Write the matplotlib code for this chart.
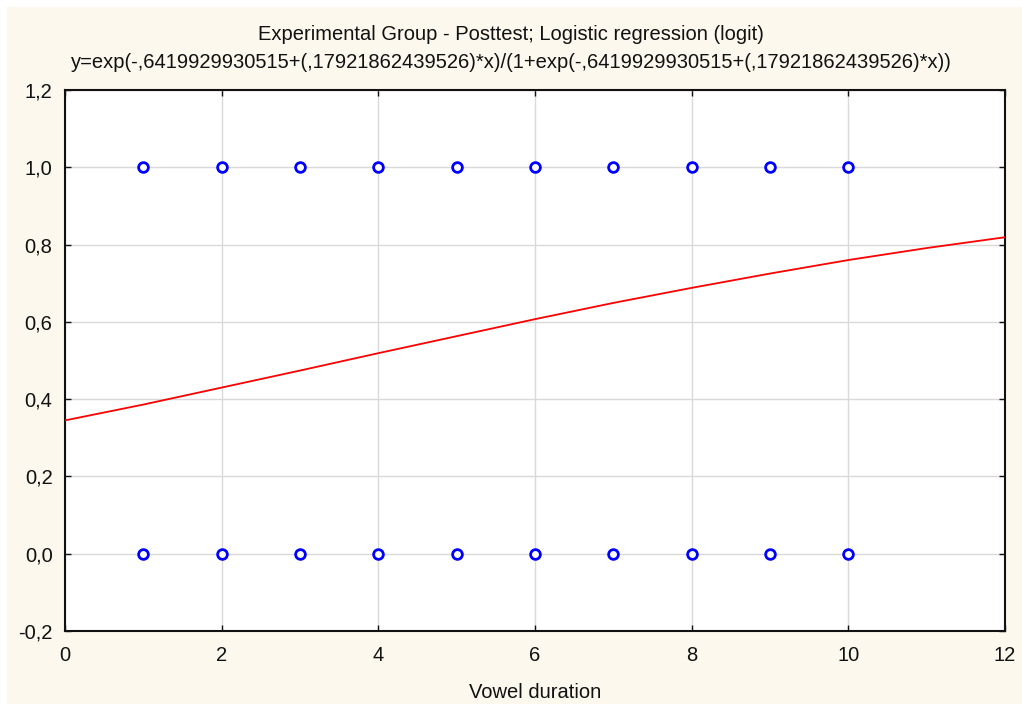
import matplotlib
matplotlib.use("Agg")
import matplotlib.pyplot as plt
import matplotlib.patches as mpatches
from matplotlib.ticker import FuncFormatter

# Observed responses (0/1) for each vowel duration step
duration = [1, 2, 3, 4, 5, 6, 7, 8, 9, 10]
resp_one = [1, 1, 1, 1, 1, 1, 1, 1, 1, 1]
resp_zero = [0, 0, 0, 0, 0, 0, 0, 0, 0, 0]

# Fitted logistic curve at integer x
curve_x = [0, 1, 2, 3, 4, 5, 6, 7, 8, 9, 10, 11, 12]
curve_y = [0.345, 0.386, 0.430, 0.474, 0.519, 0.563, 0.607,
           0.649, 0.688, 0.725, 0.760, 0.791, 0.819]

title_1 = "Experimental Group - Posttest; Logistic regression (logit)"
title_2 = ("y=exp(-,6419929930515+(,17921862439526)*x)/"
           "(1+exp(-,6419929930515+(,17921862439526)*x))")

plt.rcParams["font.family"] = ["Liberation Sans", "DejaVu Sans"]

cream = "#fdf8ee"
ink = "#111111"
fs = 14.5
W, H = 1022, 711
fig = plt.figure(figsize=(W / 100, H / 100), dpi=100)
fig.patch.set_facecolor("white")
fig.add_artist(mpatches.Rectangle((7 / W, 7 / H), 1 - 7 / W, 1 - 14 / H,
                                  transform=fig.transFigure, facecolor=cream,
                                  edgecolor="none", zorder=0))

ax = fig.add_axes([65 / W, 1 - 631 / H, 940 / W, 541 / H])
ax.set_facecolor("white")
ax.set_xlim(0, 12)
ax.set_ylim(-0.2, 1.2)
ax.set_xticks(range(0, 13, 2))
ax.set_yticks([-0.2, 0.0, 0.2, 0.4, 0.6, 0.8, 1.0, 1.2])
ax.yaxis.set_major_formatter(FuncFormatter(lambda v, p: f"{v:.1f}".replace(".", ",")))
ax.grid(True, color="#d9d9d9", linewidth=1.0, zorder=1)
ax.set_axisbelow(True)
ax.tick_params(direction="in", length=4, width=1, top=True, right=True,
               labelsize=fs, colors=ink)
ax.tick_params(axis="x", pad=11)
ax.tick_params(axis="y", pad=9)
for sp in ax.spines.values():
    sp.set_linewidth(1.5)
    sp.set_color(ink)

ax.plot(curve_x, curve_y, color="#ff0000", linewidth=1.3, zorder=3)
ax.plot(duration, resp_one, linestyle="none", marker="o", markersize=7,
        markerfacecolor="white", markeredgecolor="#0000ff", markeredgewidth=2, zorder=4)
ax.plot(duration, resp_zero, linestyle="none", marker="o", markersize=7,
        markerfacecolor="white", markeredgecolor="#0000ff", markeredgewidth=2, zorder=4)

fig.text(0.5, 1 - 35 / H, title_1, ha="center", va="center", fontsize=fs, color=ink)
fig.text(0.5, 1 - 63 / H, title_2, ha="center", va="center", fontsize=fs, color=ink)
fig.text((65 + 1005) / 2 / W, 1 - 692 / H, "Vowel duration", ha="center",
         va="center", fontsize=fs, color=ink)

fig.savefig("out.png", dpi=100, facecolor="white")
plt.close(fig)
